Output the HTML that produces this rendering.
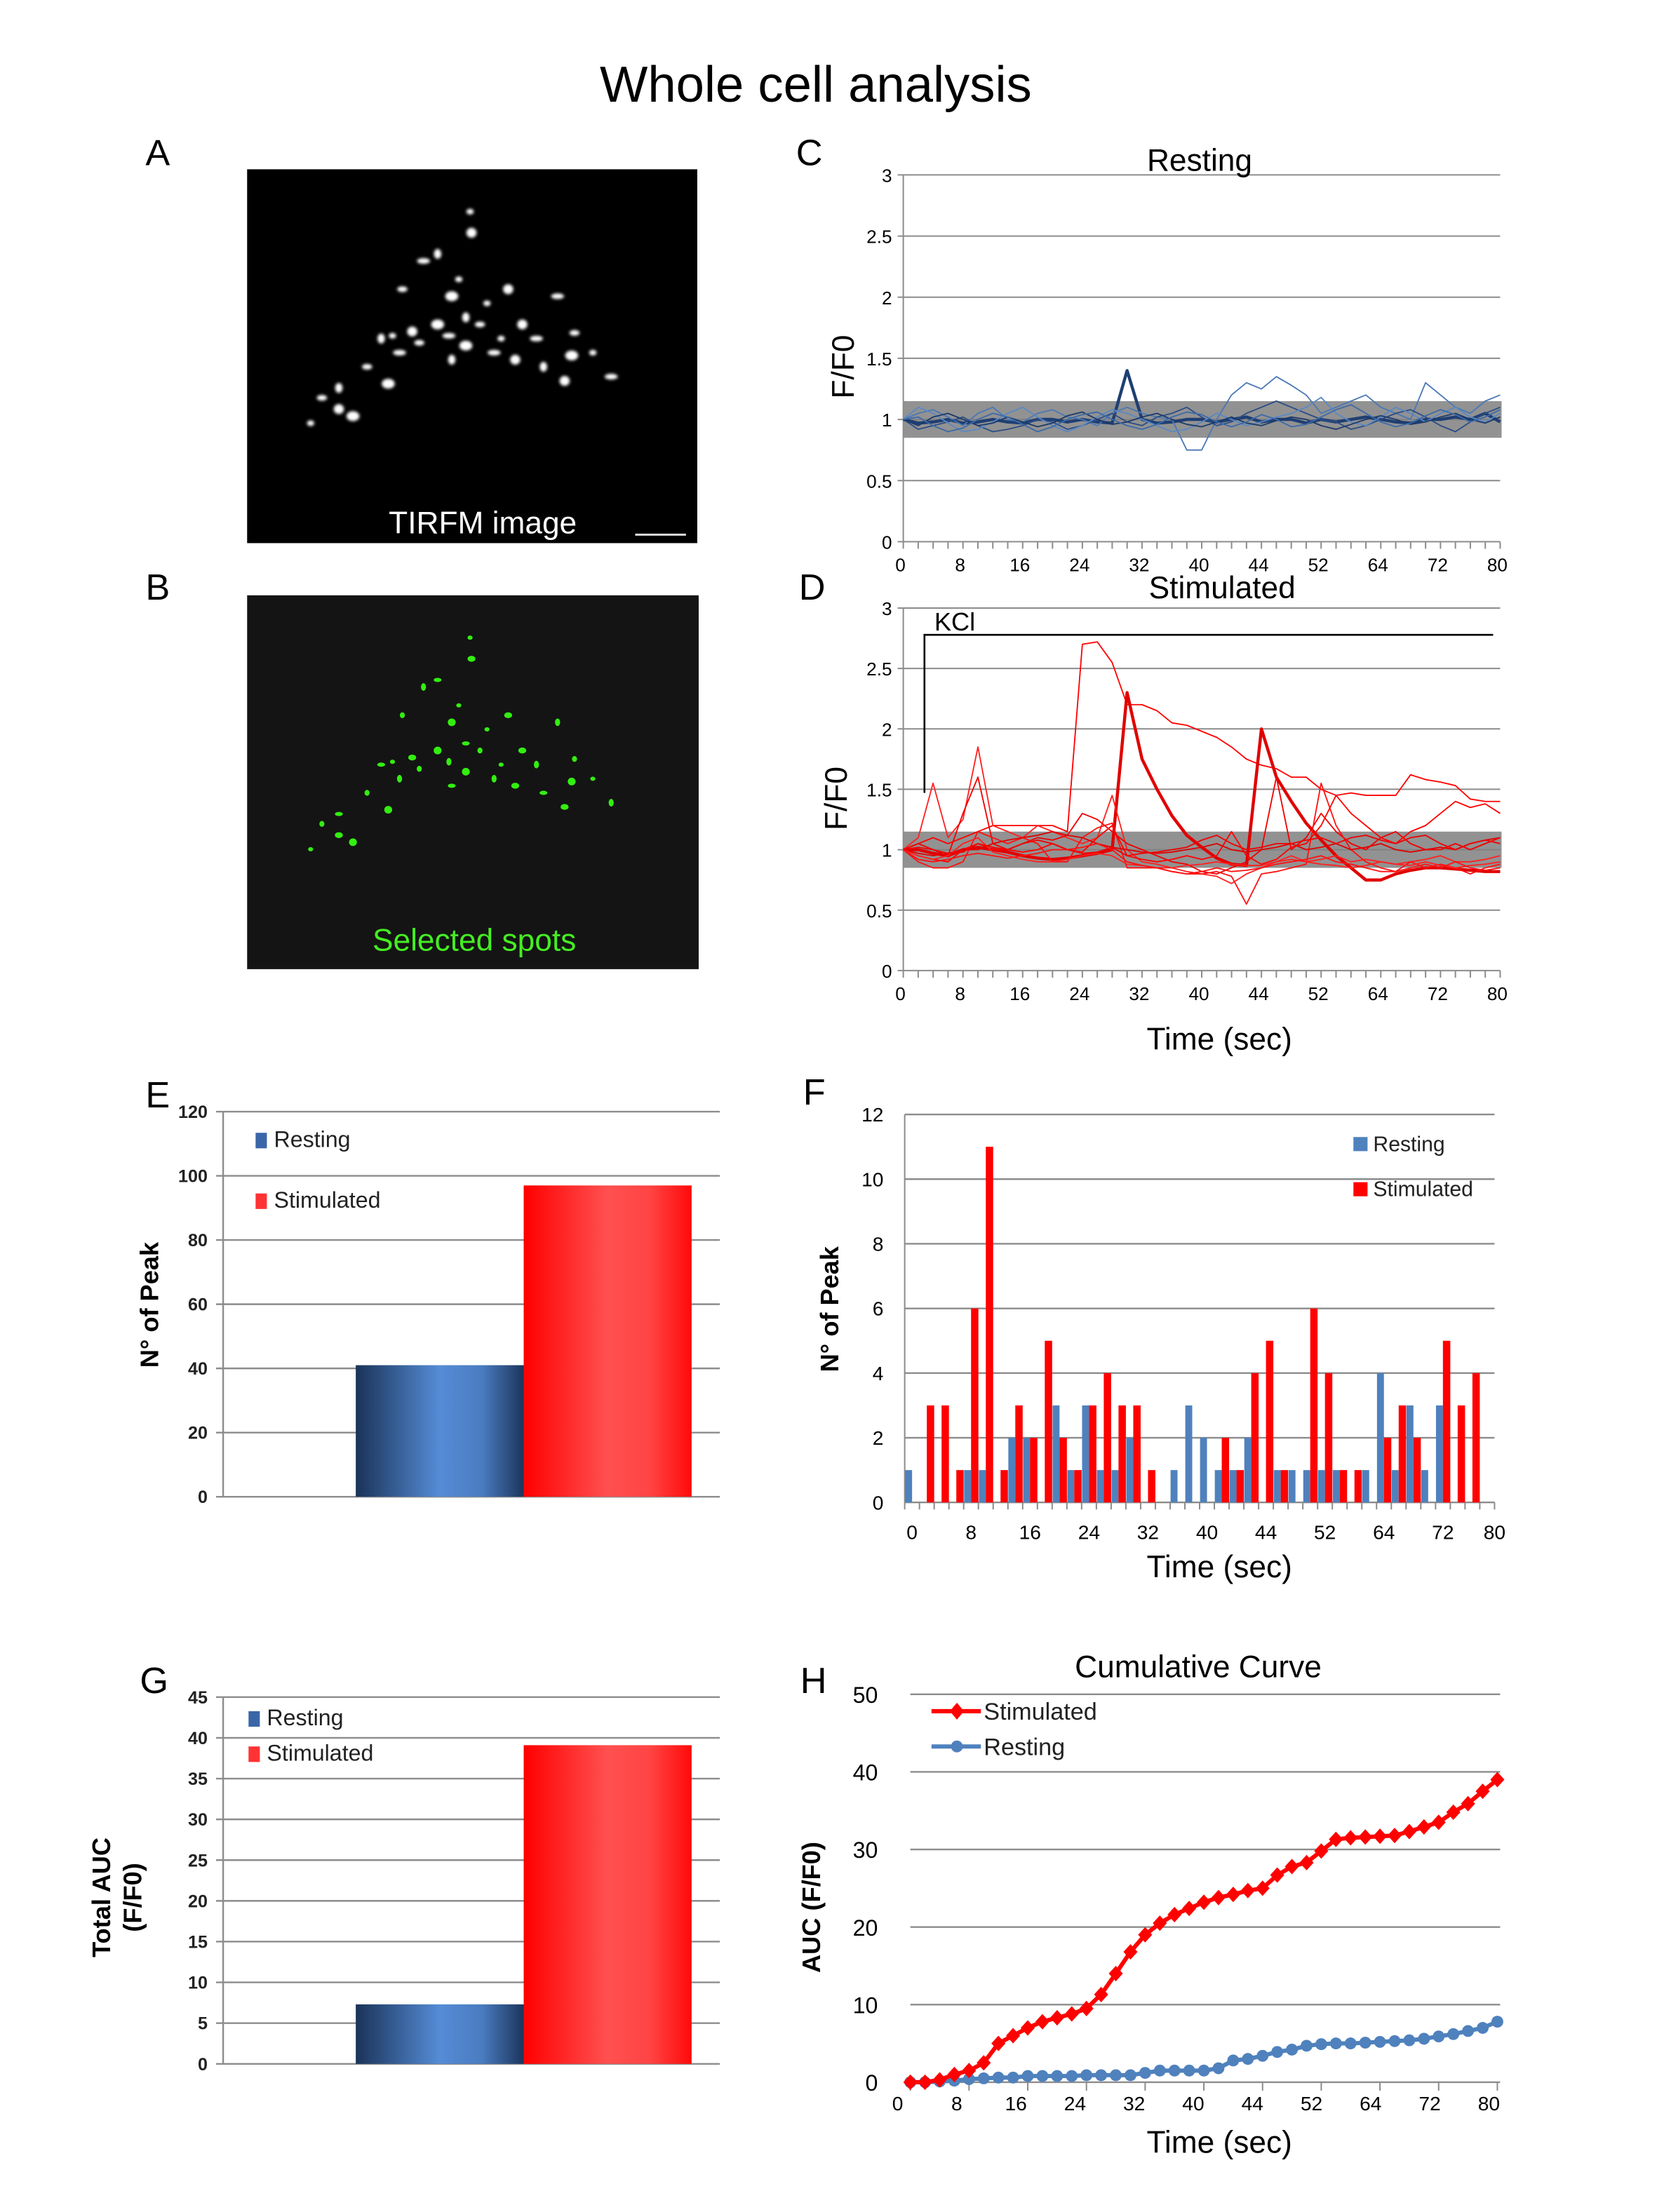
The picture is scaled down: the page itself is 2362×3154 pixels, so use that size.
<!DOCTYPE html>
<html><head><meta charset="utf-8"><style>
html,body{margin:0;padding:0;background:#fff;}
svg{display:block;font-family:"Liberation Sans",sans-serif;}
</style></head><body>
<svg id="fig" width="2362" height="3154" viewBox="0 0 1174 1568" xmlns="http://www.w3.org/2000/svg">
<defs>
<linearGradient id="gb" x1="0" x2="1" y1="0" y2="0"><stop offset="0" stop-color="#1a3358"/><stop offset="0.5" stop-color="#558cd6"/><stop offset="0.75" stop-color="#4a7cc0"/><stop offset="1" stop-color="#1c355c"/></linearGradient>
<linearGradient id="gr" x1="0" x2="1" y1="0" y2="0"><stop offset="0" stop-color="#ff0000"/><stop offset="0.5" stop-color="#ff5050"/><stop offset="0.75" stop-color="#ff4444"/><stop offset="1" stop-color="#ff0a0a"/></linearGradient>
<filter id="blur"><feGaussianBlur stdDeviation="1"/></filter>
</defs>
<text x="578" y="72" font-size="36" text-anchor="middle">Whole cell analysis</text>
<g font-size="26">
<text x="103" y="117">A</text><text x="103" y="425">B</text><text x="564" y="117">C</text><text x="566" y="425">D</text>
<text x="103" y="785">E</text><text x="569" y="783">F</text><text x="99" y="1200">G</text><text x="567" y="1200">H</text>
</g>
<rect x="175" y="120" width="319" height="265" fill="#000"/>
<g id="dotsA" filter="url(#blur)"></g>
<text x="342" y="378" font-size="22" fill="#fff" text-anchor="middle">TIRFM image</text>
<line x1="450" y1="379" x2="486" y2="379" stroke="#ddd" stroke-width="1.5"/>
<rect x="175" y="422" width="320" height="265" fill="#141414"/>
<g id="dotsB"></g>
<text x="336" y="674" font-size="22" fill="#44ee22" text-anchor="middle">Selected spots</text>
<g id="C"></g>
<g id="D"></g>
<g id="E"></g>
<g id="F"></g>
<g id="G"></g>
<g id="H"></g>
</svg>
<script>
const NS="http://www.w3.org/2000/svg";
function mk(p,tag,a,txt){const e=document.createElementNS(NS,tag);for(const k in a)e.setAttribute(k,a[k]);if(txt!==undefined)e.textContent=txt;p.appendChild(e);return e;}
const spotPos=[[333,150],[334,165],[300,185],[310,180],[285,205],[320,210],[345,215],[360,205],[395,210],[330,225],[340,230],[310,230],[278,238],[292,235],[283,250],[270,240],[297,243],[330,245],[355,240],[370,230],[350,250],[320,255],[260,260],[275,272],[420,250],[400,270],[433,267],[240,275],[228,282],[250,295],[220,300],[240,290],[380,240],[385,260],[407,236],[405,252],[325,198],[365,255],[318,238]];
const dA=document.getElementById('dotsA'),dB=document.getElementById('dotsB');
spotPos.forEach((p,i)=>{
 const a=mk(dA,'ellipse',{cx:p[0],cy:p[1],rx:2.6+(i%3),ry:2+(i%2)*1.5,fill:'#fff'});
 
 
 const b=mk(dB,'ellipse',{cx:p[0],cy:p[1]+302,rx:1.8+(i%2),ry:1.5+(i%3)*0.6,fill:'#33ee11'});
 
 
});

const xTickLabels=["0","8","16","24","32","40","44","52","64","72","80"];
const restTraces=[
[1,0.97,0.98,1.0,0.97,0.98,1.0,0.98,0.97,1.0,1.0,0.98,1.0,0.98,0.97,1.4,1.0,0.97,0.98,1.0,1.0,0.98,1.0,1.02,0.98,1.0,1.0,0.97,1.0,0.98,1.0,1.02,1.0,0.98,0.97,1.0,1.0,1.02,1.0,1.05,0.98],
[1,1.05,1.08,1.02,0.95,1.05,1.1,1.0,0.98,1.05,1.08,1.02,1.0,0.95,1.05,1.1,1.05,1.02,1.0,0.75,0.75,1.0,1.2,1.3,1.25,1.35,1.28,1.2,1.05,1.1,1.15,1.2,1.1,1.05,1.0,1.3,1.2,1.1,1.05,1.15,1.2],
[1,0.92,0.95,0.98,1.02,0.95,0.9,0.92,0.95,1.0,0.98,0.92,0.95,1.0,1.05,0.98,0.95,1.02,1.05,1.1,1.02,0.95,0.98,1.05,1.1,1.15,1.1,1.05,1.0,0.98,0.92,0.95,1.0,1.05,1.08,1.02,0.95,0.9,0.98,1.05,1.1],
[1,1.1,1.05,0.97,0.9,0.92,0.98,1.05,1.1,1.02,0.95,0.9,0.95,1.02,1.08,1.05,1.0,0.95,0.9,0.92,0.98,1.05,1.0,0.95,0.98,1.02,1.05,1.1,1.18,1.05,0.98,0.95,1.02,1.1,1.05,0.98,1.05,1.1,1.02,0.98,1.05],
[1,0.95,1.02,1.05,1.0,0.95,0.97,1.02,0.98,0.94,0.97,1.03,1.06,1.0,0.96,0.98,1.02,1.05,1.0,0.96,0.94,0.98,1.02,0.97,0.95,0.99,1.02,1.0,0.95,0.92,0.96,1.0,1.03,1.0,0.96,0.98,1.02,1.05,1.0,0.97,1.02],
[1,1.02,0.95,0.9,0.93,1.0,1.05,1.02,0.96,0.9,0.94,1.0,1.04,1.06,1.0,0.95,0.92,0.96,1.02,1.06,1.04,0.98,0.94,0.98,1.04,1.0,0.94,0.96,1.02,1.08,1.12,1.05,0.98,0.94,0.97,1.03,1.08,1.04,0.98,1.02,1.08]];
const stimTraces=[
[1,1.05,1.1,1.05,1.1,1.15,1.2,1.2,1.2,1.2,1.2,1.15,2.7,2.72,2.55,2.2,2.2,2.15,2.05,2.03,1.98,1.93,1.85,1.75,1.7,1.67,1.6,1.6,1.5,1.45,1.47,1.45,1.45,1.45,1.62,1.58,1.56,1.53,1.42,1.4,1.4],
[1,1,0.97,0.95,1.0,1.02,1.0,0.98,0.95,0.93,0.92,0.93,0.95,0.97,1.0,2.3,1.75,1.5,1.28,1.12,1.02,0.93,0.88,0.87,2.0,1.6,1.4,1.22,1.08,0.95,0.85,0.75,0.75,0.8,0.83,0.85,0.85,0.84,0.83,0.82,0.82],
[1,1.1,1.55,1.1,1.25,1.85,1.2,1.15,1.1,1.2,1.15,1.1,1.05,1.1,1.45,1.0,0.9,0.88,0.85,0.82,0.8,0.78,0.72,0.8,0.85,0.9,0.92,0.9,0.92,0.95,0.9,0.92,0.9,0.88,0.9,0.92,0.95,0.9,0.9,0.92,0.95],
[1,1.05,1.0,0.95,1.3,1.6,1.05,1.0,1.05,1.1,1.08,1.12,1.3,1.25,1.15,1.05,1.0,0.95,0.9,0.88,0.82,0.8,0.85,0.9,1.0,1.6,1.0,1.1,1.3,1.15,1.05,1.0,1.1,1.15,1.05,1.0,1.0,1.05,1.0,1.05,1.1],
[1,0.9,0.85,0.85,0.9,1.15,1.1,1.05,1.1,1.05,0.9,0.9,1.1,1.18,1.22,0.85,0.85,0.85,0.82,0.8,0.8,0.82,0.78,0.55,0.8,0.82,0.85,0.88,1.55,1.2,1.0,0.9,0.85,0.82,0.9,0.85,0.88,0.85,0.8,0.85,0.88],
[1,0.95,0.92,0.9,1.0,1.05,1.0,1.0,0.98,1.0,1.05,1.0,0.98,1.1,1.2,0.95,0.92,0.9,0.92,0.95,0.92,0.95,1.15,0.95,0.88,0.92,1.02,1.05,1.2,1.45,1.3,1.2,1.1,1.05,1.15,1.2,1.3,1.4,1.35,1.38,1.3],
[1,0.97,0.95,0.97,1.0,1.0,1.05,1.08,1.1,1.12,1.15,1.12,1.1,1.05,1.02,1.0,0.98,0.97,0.98,1.0,1.02,1.05,1.0,0.98,1.0,1.02,1.05,1.0,1.02,1.05,1.0,1.02,1.05,1.0,0.98,1.0,1.02,1.0,1.05,1.08,1.1],
[1,0.95,0.92,0.95,1.05,1.1,0.98,0.95,0.92,0.9,0.9,0.92,0.95,0.97,0.95,0.88,0.87,0.85,0.85,0.87,0.88,0.9,0.88,0.87,0.87,0.9,0.95,0.9,0.88,0.87,0.85,0.87,0.9,0.88,0.87,0.9,0.87,0.85,0.87,0.88,0.9],
[1,1.02,1.0,0.97,0.98,1.05,1.02,1.0,1.05,1.08,1.05,1.0,0.97,0.98,1.02,0.95,0.97,0.98,1.0,1.02,1.08,1.12,1.05,1.0,1.02,1.05,1.05,1.08,1.1,1.05,1.1,1.12,1.08,1.05,1.1,1.12,1.05,1.0,1.05,1.08,1.05],
[1,0.92,0.9,0.92,0.95,0.97,0.95,0.93,0.95,0.97,1.0,1.0,1.02,1.05,1.0,0.9,0.87,0.85,0.82,0.8,0.82,0.85,0.82,0.83,0.85,0.88,0.9,0.92,0.95,0.9,0.88,0.85,0.82,0.82,0.85,0.88,0.85,0.9,0.85,0.83,0.85]];
const fYTicks=[0,0.5,1,1.5,2,2.5,3];

function traceChart(id,top,bottom,traces,colors,thickIdx,title,titleX,titleY,ylabY,xlab){
 const g=document.getElementById(id);
 const x0=640,x1=1063;
 const ys=v=>bottom-(v/3)*(bottom-top);
 const xs=i=>x0+(x1-x0)*i/40;
 fYTicks.forEach(t=>{
  const l=mk(g,'line',{x1:x0-4,x2:x1,y1:ys(t),y2:ys(t),stroke:'#8c8c8c','stroke-width':1});
  
  
  const tx=mk(g,'text',{x:x0-8,y:ys(t)+5,'font-size':13,'text-anchor':'end'},String(t));
  
  
 });
 const band=mk(g,'rect',{x:x0,y:ys(1.15),width:x1-x0+1,height:ys(0.85)-ys(1.15),fill:'#7f7f7f',opacity:0.85});
 
 
 const ax=mk(g,'line',{x1:x0,x2:x0,y1:top,y2:bottom,stroke:'#8c8c8c'});
 
 
 for(let i=0;i<=40;i++){const tk=mk(g,'line',{x1:xs(i),x2:xs(i),y1:bottom,y2:bottom+5,stroke:'#8c8c8c'});
  
  }
 xTickLabels.forEach((s,i)=>{const t=mk(g,'text',{x:x0-2+i*42.3,y:bottom+21,'font-size':13,'text-anchor':'middle'},s);
  
  });
 traces.forEach((tr,k)=>{
  const d=tr.map((v,i)=>(i?'L':'M')+xs(i).toFixed(1)+','+ys(v).toFixed(1)).join('');
  const p=mk(g,'path',{d:d,fill:'none',stroke:colors[k%colors.length],'stroke-width':k===thickIdx?2.2:0.9,'stroke-linejoin':'round'});
  
  
 });
 const tt=mk(g,'text',{x:titleX,y:titleY,'font-size':22,'text-anchor':'middle'},title);
 
 
 const yl=mk(g,'text',{x:0,y:0,'font-size':22,'text-anchor':'middle',transform:'translate('+(id==='C'?605:600)+','+ylabY+') rotate(-90)'},'F/F0');
 
 
 if(xlab){const xl=mk(g,'text',{x:864,y:bottom+56,'font-size':22,'text-anchor':'middle'},'Time (sec)');
  
  }
 return g;
}
traceChart('C',124,384,restTraces,['#1f3f73','#4a78b4','#2b4d85','#5a88c4','#1d3a6a','#3d6aa8'],0,'Resting',850,121,260,false);
const gD=traceChart('D',431,688,stimTraces,['#ff0000','#e00000','#ff2020','#f00000','#ff1010'],1,'Stimulated',866,424,566,true);
const kl=mk(gD,'path',{d:'M655,562 L655,450 L1058,450',fill:'none',stroke:'#000','stroke-width':1.3});


const kt=mk(gD,'text',{x:662,y:447,'font-size':18},'KCl');



const barCats=["Resting","Stimulated"];
const peakTotals=[41,97];
const aucTotals=[7.3,39.1];
const peakTicks=[0,20,40,60,80,100,120];
const aucTicks=[0,5,10,15,20,25,30,35,40,45];
function barChart(id,top,bottom,ticks,maxV,vals,legY,legFs,sq){
 const g=document.getElementById(id);
 const x0=158,x1=510;
 const ys=v=>bottom-(v/maxV)*(bottom-top);
 ticks.forEach(t=>{
  const l=mk(g,'line',{x1:x0-5,x2:x1,y1:ys(t),y2:ys(t),stroke:'#8c8c8c','stroke-width':1.2});
  
  
  const tx=mk(g,'text',{x:x0-11,y:ys(t)+4.5,'font-size':12.5,'font-weight':'bold','text-anchor':'end',fill:'#222'},String(t));
  
  
 });
 const ax=mk(g,'line',{x1:x0,x2:x0,y1:top,y2:bottom,stroke:'#8c8c8c','stroke-width':1.2});
 
 
 vals.forEach((v,i)=>{
  const r=mk(g,'rect',{x:252+i*119,y:ys(v),width:119,height:bottom-ys(v),fill:i?'url(#gr)':'url(#gb)'});
  
  
 });
 barCats.forEach((c,i)=>{
  const s=mk(g,'rect',{x:sq,y:legY[i]-10,width:8,height:11,fill:i?'#ff3333':'#3a66a8'});
  
  
  const t=mk(g,'text',{x:sq+13,y:legY[i],'font-size':legFs,fill:'#222'},c);
  
  
 });
 return g;
}
const gE=barChart('E',788,1061,peakTicks,120,peakTotals,[813,856],16,181);
const ey=mk(gE,'text',{x:0,y:0,'font-size':18,'font-weight':'bold','text-anchor':'middle',transform:'translate(112,925) rotate(-90)'},'N° of Peak');


const gG=barChart('G',1203,1463,aucTicks,45,aucTotals,[1223,1248],16,176);
const gy1=mk(gG,'text',{x:0,y:0,'font-size':18,'font-weight':'bold','text-anchor':'middle',transform:'translate(78,1345) rotate(-90)'},'Total AUC');


const gy2=mk(gG,'text',{x:0,y:0,'font-size':18,'font-weight':'bold','text-anchor':'middle',transform:'translate(100,1345) rotate(-90)'},'(F/F0)');



const histResting=[1,0,0,0,1,1,0,2,2,0,3,1,3,1,1,2,0,0,1,3,2,1,1,2,0,1,1,1,1,1,0,1,4,1,3,1,3,0,0,0];
const histStim=[0,3,3,1,6,11,1,3,2,5,2,1,3,4,3,3,1,0,0,0,0,2,1,4,5,1,0,6,4,1,1,0,2,3,2,0,5,3,4,0];
const histYTicks=[0,2,4,6,8,10,12];
(function(){
 const g=document.getElementById('F');
 const x0=641,x1=1059,top=790,bottom=1065;
 const ys=v=>bottom-(v/12)*(bottom-top);
 const cw=(x1-x0)/40;
 histYTicks.forEach(t=>{
  const l=mk(g,'line',{x1:x0,x2:x1,y1:ys(t),y2:ys(t),stroke:'#8c8c8c','stroke-width':1.2});
  
  
  const tx=mk(g,'text',{x:x0-15,y:ys(t)+5,'font-size':14,'text-anchor':'end'},String(t));
  
  
 });
 const ax=mk(g,'line',{x1:x0,x2:x0,y1:top,y2:bottom,stroke:'#8c8c8c'});
 
 
 for(let i=0;i<=40;i++){const tk=mk(g,'line',{x1:x0+i*cw,x2:x0+i*cw,y1:bottom,y2:bottom+5,stroke:'#8c8c8c'});
  
  }
 histResting.forEach((v,i)=>{ if(!v)return;
  const r=mk(g,'rect',{x:x0+i*cw+0.3,y:ys(v),width:cw/2-0.3,height:bottom-ys(v),fill:'#4f81bd'});
  
  });
 histStim.forEach((v,i)=>{ if(!v)return;
  const r=mk(g,'rect',{x:x0+i*cw+cw/2,y:ys(v),width:cw/2,height:bottom-ys(v),fill:'#ff0000'});
  
  });
 xTickLabels.forEach((s,i)=>{const t=mk(g,'text',{x:i<10?x0+(i*4+0.5)*cw:x0+40*cw,y:bottom+26,'font-size':14,'text-anchor':'middle'},s);
  
  });
 const s1=mk(g,'rect',{x:959,y:806,width:10,height:10,fill:'#4f81bd'});
 
 
 const l1=mk(g,'text',{x:973,y:816,'font-size':15,fill:'#222'},'Resting');
 
 
 const s2=mk(g,'rect',{x:959,y:838,width:10,height:10,fill:'#ff0000'});
 
 
 const l2=mk(g,'text',{x:973,y:848,'font-size':15,fill:'#222'},'Stimulated');
 
 
 const yl=mk(g,'text',{x:0,y:0,'font-size':18,'font-weight':'bold','text-anchor':'middle',transform:'translate(594,928) rotate(-90)'},'N° of Peak');
 
 
 const xl=mk(g,'text',{x:864,y:1118,'font-size':22,'text-anchor':'middle'},'Time (sec)');
 
 
})();

const cumStim=[0,0,0.3,1,1.5,2.5,5,6,7,7.8,8.3,8.8,9.5,11.3,14,16.8,19,20.5,21.6,22.4,23.2,23.8,24.2,24.7,25,26.7,27.8,28.3,29.8,31.3,31.5,31.6,31.7,31.8,32.3,32.9,33.5,34.8,35.9,37.5,39];
const cumRest=[0,0,0.1,0.2,0.4,0.5,0.6,0.6,0.8,0.8,0.8,0.8,0.9,0.9,0.9,0.9,1.2,1.5,1.5,1.5,1.5,1.8,2.8,3,3.4,3.9,4.2,4.7,4.9,5,5,5.1,5.2,5.3,5.4,5.6,5.9,6.2,6.6,7,7.8];
const cumYTicks=[0,10,20,30,40,50];
(function(){
 const g=document.getElementById('H');
 const x0=645,x1=1063,top=1201,bottom=1476;
 const ys=v=>bottom-(v/50)*(bottom-top);
 const xs=i=>x0+i*(1061-x0)/40;
 cumYTicks.forEach(t=>{
  const l=mk(g,'line',{x1:x0,x2:x1,y1:ys(t),y2:ys(t),stroke:'#8c8c8c','stroke-width':1.2});
  
  
  const tx=mk(g,'text',{x:622,y:ys(t)+6,'font-size':16,'text-anchor':'end'},String(t));
  
  
 });
 xTickLabels.forEach((s,i)=>{
  const tk=mk(g,'line',{x1:x0+i*41.6,x2:x0+i*41.6,y1:bottom,y2:bottom+6,stroke:'#8c8c8c'});
  
  
  const t=mk(g,'text',{x:636+i*41.9,y:bottom+20,'font-size':14,'text-anchor':'middle'},s);
  
  });
 function series(vals,col,diamond,name){
  const d=vals.map((v,i)=>(i?'L':'M')+xs(i).toFixed(1)+','+ys(v).toFixed(1)).join('');
  const p=mk(g,'path',{d:d,fill:'none',stroke:col,'stroke-width':3});
  
  
  vals.forEach((v,i)=>{
   const x=xs(i),y=ys(v);
   const m=diamond?mk(g,'path',{d:`M${x},${y-5.5}L${x+5},${y}L${x},${y+5.5}L${x-5},${y}Z`,fill:col}):mk(g,'circle',{cx:x,cy:y,r:4.2,fill:col});
   
   
  });
 }
 series(cumRest,'#4f81bd',false,'resting');
 series(cumStim,'#ff0000',true,'stimulated');
 const ln1=mk(g,'line',{x1:660,x2:695,y1:1213,y2:1213,stroke:'#ff0000','stroke-width':3});
 
 
 const mk1=mk(g,'path',{d:'M678,1207L683,1213L678,1219L673,1213Z',fill:'#ff0000'});
 
 
 const t1=mk(g,'text',{x:697,y:1219,'font-size':17,fill:'#222'},'Stimulated');
 
 
 const ln2=mk(g,'line',{x1:660,x2:695,y1:1238,y2:1238,stroke:'#4f81bd','stroke-width':3});
 
 
 const mk2=mk(g,'circle',{cx:678,cy:1238,r:4.2,fill:'#4f81bd'});
 
 
 const t2=mk(g,'text',{x:697,y:1244,'font-size':17,fill:'#222'},'Resting');
 
 
 const tt=mk(g,'text',{x:849,y:1189,'font-size':22,'text-anchor':'middle'},'Cumulative Curve');
 
 
 const yl=mk(g,'text',{x:0,y:0,'font-size':18,'font-weight':'bold','text-anchor':'middle',transform:'translate(581,1352) rotate(-90)'},'AUC (F/F0)');
 
 
 const xl=mk(g,'text',{x:864,y:1526,'font-size':22,'text-anchor':'middle'},'Time (sec)');
 
 
})();
</script>
</body></html>
